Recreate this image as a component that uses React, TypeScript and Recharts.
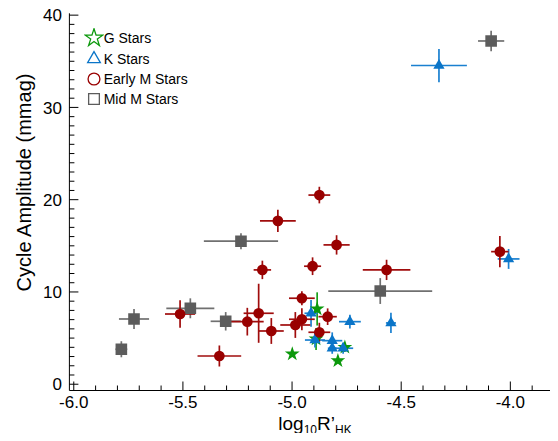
import React from 'react';
import { ScatterChart, Scatter, XAxis, YAxis, ErrorBar, Symbols, Legend, Label } from 'recharts';

const FONT = '"Liberation Sans", Arial, Helvetica, sans-serif';
const W = 558;
const H = 441;

// Axis settings
const X_DOMAIN: [number, number] = [-6.02, -3.8];
const Y_DOMAIN: [number, number] = [-0.68, 40.2];
const xMajor = [-6.0, -5.5, -5.0, -4.5, -4.0];
const xMinor = [-5.9, -5.8, -5.7, -5.6, -5.4, -5.3, -5.2, -5.1, -4.9, -4.8, -4.7, -4.6, -4.4, -4.3, -4.2, -4.1, -3.9, -3.8];
const yMajor = [0, 10, 20, 30, 40];
const yMinor = [1, 2, 3, 4, 5, 6, 7, 8, 9, 11, 12, 13, 14, 15, 16, 17, 18, 19, 21, 22, 23, 24, 25, 26, 27, 28, 29, 31, 32, 33, 34, 35, 36, 37, 38, 39];

// G stars
const gX = [-4.999, -4.885, -4.89, -4.79, -4.758];
const gY = [3.28, 8.16, 4.9, 2.55, 4.0];
const gXErr = [0.01, 0.015, 0.015, 0.02, 0.02];
const gYErr = [0.3, 1.8, 1.2, 0.3, 0.5];

// K stars
const kX = [-4.913, -4.895, -4.816, -4.816, -4.766, -4.735, -4.547, -4.327, -4.008];
const kY = [7.69, 4.79, 4.72, 3.9, 3.9, 6.78, 6.64, 34.54, 13.58];
const kXErr = [0.03, 0.046, 0.046, 0.02, 0.046, 0.05, 0.023, 0.128, 0.05];
const kYErr = [1.45, 0.8, 0.9, 0.6, 0.6, 0.75, 1.1, 1.8, 1.08];

// Early M stars
const eX = [-5.513, -5.333, -5.205, -5.153, -5.095, -4.985, -4.955, -4.955, -4.837, -4.875, -4.875, -5.065, -4.796, -5.136, -4.906, -4.567, -4.048];
const eY = [7.61, 3.06, 6.78, 7.69, 5.77, 6.42, 9.32, 7.04, 7.32, 5.63, 20.5, 17.7, 15.1, 12.39, 12.79, 12.39, 14.37];
const eXErr = [0.069, 0.1, 0.075, 0.069, 0.057, 0.069, 0.059, 0.059, 0.042, 0.05, 0.05, 0.082, 0.06, 0.04, 0.039, 0.109, 0.04];
const eYErr = [1.48, 1.14, 1.5, 3.2, 1.4, 1.4, 0.75, 1.2, 0.9, 1.03, 0.9, 1.2, 1.05, 1.0, 0.96, 1.1, 1.7];

// Mid M stars
const mX = [-5.782, -5.724, -5.466, -5.304, -5.234, -4.596, -4.088];
const mY = [3.79, 7.07, 8.23, 6.82, 15.5, 10.1, 37.2];
const mXErr = [0.027, 0.069, 0.11, 0.069, 0.17, 0.238, 0.06];
const mYErr = [0.87, 1.08, 1.08, 1.0, 0.87, 1.4, 1.1];

const build = (xs: number[], ys: number[], exs: number[], eys: number[]) =>
  xs.map((x, i) => ({ x, y: ys[i], ex: exs[i], ey: eys[i] }));

const SERIES = [
  { name: 'G Stars', type: 'star', size: 68, legendSize: 95, color: '#0b980b', errColor: '#1aa01a', data: build(gX, gY, gXErr, gYErr) },
  { name: 'K Stars', type: 'triangle', size: 55, legendSize: 70, color: '#0a75c8', errColor: '#1a80d0', data: build(kX, kY, kXErr, kYErr) },
  { name: 'Early M Stars', type: 'circle', size: 90, legendSize: 110, color: '#990000', errColor: '#a00c0c', data: build(eX, eY, eXErr, eYErr) },
  { name: 'Mid M Stars', type: 'square', size: 135, legendSize: 115, color: '#5c5c5c', errColor: '#707070', data: build(mX, mY, mXErr, mYErr) },
];
const DRAW_ORDER = ['Mid M Stars', 'G Stars', 'K Stars', 'Early M Stars'];

const isIn = (arr: number[], v: number) => arr.some((a) => Math.abs(a - v) < 1e-6);
const MAJOR_LEN = 9;
const MINOR_LEN = 5;

const BottomTick = (p: any) => {
  const { x, y, payload } = p;
  const major = isIn(xMajor, payload.value);
  return (
    <g>
      <line x1={x} x2={x} y1={y} y2={y - (major ? MAJOR_LEN : MINOR_LEN)} stroke="#000" strokeWidth={1} />
      {major && (
        <text x={x} y={y + 17.5} textAnchor="middle" fontSize={17} fontFamily={FONT} fill="#000">
          {payload.value.toFixed(1)}
        </text>
      )}
    </g>
  );
};
const TopTick = (p: any) => {
  const { x, y, payload } = p;
  const major = isIn(xMajor, payload.value);
  return <line x1={x} x2={x} y1={y} y2={y + (major ? MAJOR_LEN : MINOR_LEN)} stroke="#000" strokeWidth={1} />;
};
const LeftTick = (p: any) => {
  const { x, y, payload } = p;
  const major = isIn(yMajor, payload.value);
  return (
    <g>
      <line x1={x} x2={x + (major ? MAJOR_LEN : MINOR_LEN)} y1={y} y2={y} stroke="#000" strokeWidth={1} />
      {major && (
        <text x={x - 7.5} y={y + 6.2} textAnchor="end" fontSize={17} fontFamily={FONT} fill="#000">
          {String(payload.value)}
        </text>
      )}
    </g>
  );
};
const RightTick = (p: any) => {
  const { x, y, payload } = p;
  const major = isIn(yMajor, payload.value);
  return <line x1={x} x2={x - (major ? MAJOR_LEN : MINOR_LEN)} y1={y} y2={y} stroke="#000" strokeWidth={1} />;
};

const XTitle = (props: any) => {
  const vb = props.viewBox || { x: 0, y: 0, width: 0, height: 0 };
  const cx = vb.x + vb.width / 2 + 3.3;
  const by = vb.y + 39.3;
  return (
    <text x={cx} y={by} textAnchor="middle" fontSize={19} fontFamily={FONT} fill="#000">
      log
      <tspan fontSize={12} dy={4.5}>10</tspan>
      <tspan dy={-4.5}>R’</tspan>
      <tspan fontSize={12} dy={4}>HK</tspan>
    </text>
  );
};
const YTitle = (props: any) => {
  const vb = props.viewBox || { x: 0, y: 0, width: 0, height: 0 };
  const cx = vb.x + 24;
  const cy = vb.y + vb.height / 2 - 19.4;
  return (
    <text
      x={cx}
      y={cy}
      transform={`rotate(-90 ${cx} ${cy})`}
      textAnchor="middle"
      dominantBaseline="central"
      fontSize={20}
      fontFamily={FONT}
      fill="#000"
    >
      Cycle Amplitude (mmag)
    </text>
  );
};

const renderLegend = () => (
  <div style={{ fontFamily: FONT, fontSize: 14, color: '#000' }}>
    {SERIES.map((s) => (
      <div key={s.name} style={{ display: 'flex', alignItems: 'center', height: 20.3 }}>
        <svg width={20} height={20} style={{ display: 'block' }}>
          <Symbols cx={10} cy={10} type={s.type as any} size={s.legendSize} fill="none" stroke={s.color} strokeWidth={1.3} />
        </svg>
        <span style={{ lineHeight: '16px', whiteSpace: 'nowrap' }}>{s.name}</span>
      </div>
    ))}
  </div>
);

const makeShape = (type: string, size: number, color: string) => (props: any) =>
  <Symbols cx={props.cx} cy={props.cy} type={type as any} size={size} fill={color} stroke="none" />;

export default function App() {
  const xTicks = [...xMajor, ...xMinor].sort((a, b) => a - b);
  const yTicks = [...yMajor, ...yMinor].sort((a, b) => a - b);
  const ordered = DRAW_ORDER.map((n) => SERIES.find((s) => s.name === n)!);
  return (
    <div style={{ width: W, height: H, margin: -8 }}>
      <ScatterChart width={W} height={H} margin={{ top: 13.3, right: 4, bottom: 0, left: 0 }}>
        <XAxis
          xAxisId="b"
          orientation="bottom"
          type="number"
          dataKey="x"
          domain={X_DOMAIN}
          allowDataOverflow
          ticks={xTicks}
          interval={0}
          tickLine={false}
          tickSize={0}
          tickMargin={0}
          tick={(p: any) => <BottomTick {...p} />}
          axisLine={{ stroke: '#000', strokeWidth: 1 }}
          height={50.5}
        >
          <Label content={(p: any) => <XTitle {...p} />} />
        </XAxis>
        <XAxis
          xAxisId="t"
          orientation="top"
          type="number"
          domain={X_DOMAIN}
          allowDataOverflow
          ticks={xTicks}
          interval={0}
          tickLine={false}
          tickSize={0}
          tickMargin={0}
          tick={(p: any) => <TopTick {...p} />}
          axisLine={{ stroke: '#000', strokeWidth: 1 }}
          height={0}
        />
        <YAxis
          yAxisId="l"
          orientation="left"
          type="number"
          dataKey="y"
          domain={Y_DOMAIN}
          allowDataOverflow
          ticks={yTicks}
          interval={0}
          tickLine={false}
          tickSize={0}
          tickMargin={0}
          tick={(p: any) => <LeftTick {...p} />}
          axisLine={{ stroke: '#000', strokeWidth: 1 }}
          width={69.4}
        >
          <Label content={(p: any) => <YTitle {...p} />} />
        </YAxis>
        <YAxis
          yAxisId="r"
          orientation="right"
          type="number"
          domain={Y_DOMAIN}
          allowDataOverflow
          ticks={yTicks}
          interval={0}
          tickLine={false}
          tickSize={0}
          tickMargin={0}
          tick={(p: any) => <RightTick {...p} />}
          axisLine={{ stroke: '#000', strokeWidth: 1 }}
          width={0}
        />
        <Legend
          layout="horizontal"
          verticalAlign="middle"
          align="center"
          content={renderLegend}
          wrapperStyle={{ top: 28.15, left: 83.7, width: 'auto', height: 'auto' }}
        />
        {ordered.map((s) => (
          <Scatter
            key={s.name}
            name={s.name}
            data={s.data}
            xAxisId="b"
            yAxisId="l"
            fill={s.color}
            isAnimationActive={false}
            shape={makeShape(s.type, s.size, s.color)}
          >
            <ErrorBar dataKey="ex" direction="x" width={0} stroke={s.errColor} strokeWidth={1.7} isAnimationActive={false} />
            <ErrorBar dataKey="ey" direction="y" width={0} stroke={s.errColor} strokeWidth={1.7} isAnimationActive={false} />
          </Scatter>
        ))}
      </ScatterChart>
    </div>
  );
}
